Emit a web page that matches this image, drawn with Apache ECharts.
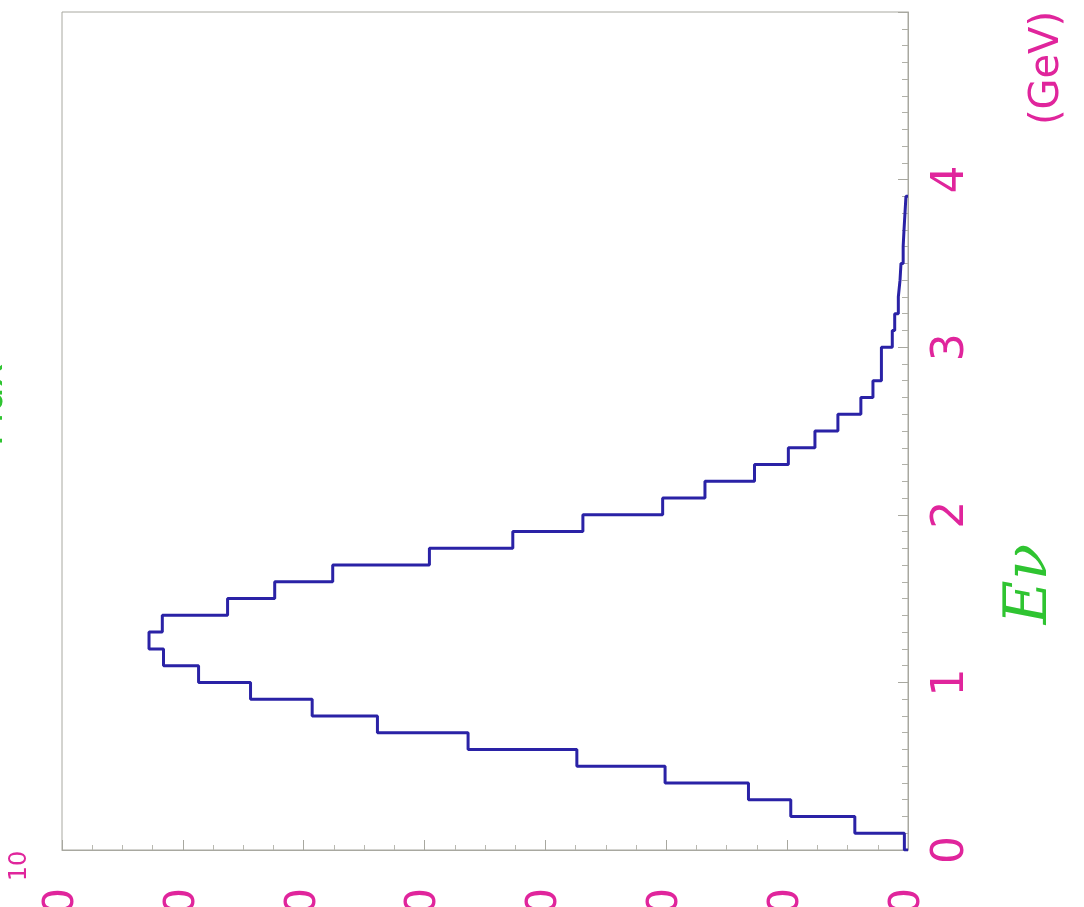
<!DOCTYPE html>
<html>
<head>
<meta charset="utf-8">
<script src="https://cdn.jsdelivr.net/npm/echarts@6/dist/echarts.min.js"></script>
<style>
  html, body {margin: 0; padding: 0; background: #fff;}
  #contain {width: 1084px; height: 907px;}
</style>
</head>
<body>
<div id="contain"></div>
<script>
// bin edges in GeV (0.1 GeV bins)
var binEdges = [0.0, 0.1, 0.2, 0.3, 0.4, 0.5, 0.6, 0.7, 0.8, 0.9,
    1.0, 1.1, 1.2, 1.3, 1.4, 1.5, 1.6, 1.7, 1.8, 1.9,
    2.0, 2.1, 2.2, 2.3, 2.4, 2.5, 2.6, 2.7, 2.8, 2.9,
    3.0, 3.1, 3.2, 3.3, 3.4, 3.5, 3.6, 3.7, 3.8, 3.9];
// content of each bin
var binCounts = [0.3, 4.4, 9.7, 13.2, 20.1, 27.4, 36.4, 43.9, 49.3, 54.4,
    58.7, 61.6, 62.8, 61.7, 56.3, 52.4, 47.6, 39.6, 32.7, 26.9,
    20.3, 16.8, 12.7, 9.9, 7.7, 5.8, 3.9, 2.9, 2.2, 2.2,
    1.3, 1.1, 0.8, 0.66, 0.58, 0.4, 0.33, 0.25, 0.17];
var countTicks = [0, 10, 20, 30, 40, 50, 60, 70];
var energyTicks = [0, 1, 2, 3, 4, 5];

var magenta = '#e0259c';
var green = '#2fc431';

function histPoints() {
    var pts = [[0, binEdges[0]]];
    for (var i = 0; i < binCounts.length; i++) {
        var hi = i + 1 < binEdges.length ? binEdges[i + 1] : binEdges[i] + 0.1;
        pts.push([binCounts[i], binEdges[i]]);
        pts.push([binCounts[i], hi]);
    }
    pts.push([0, pts[pts.length - 1][1]]);
    return pts;
}

var myChart = echarts.init(document.getElementById('contain'));
var option = {
    animation: false,
    backgroundColor: '#ffffff',
    grid: {
        left: 62, top: 12, width: 846, height: 838,
        outerBoundsMode: 'none',
        containLabel: false,
        show: true, borderColor: '#a8a8a0', borderWidth: 1
    },
    xAxis: {
        type: 'value',
        inverse: true,
        min: countTicks[0],
        max: countTicks[countTicks.length - 1],
        interval: 10,
        axisLine: {show: true, lineStyle: {color: '#a8a8a0'}},
        axisTick: {show: true, inside: true, length: 10, lineStyle: {color: '#a8a8a0'}},
        minorTick: {show: true, splitNumber: 4, length: 5, lineStyle: {color: '#b8b8b0'}},
        splitLine: {show: false},
        axisLabel: {
            show: true, rotate: 90, margin: 38,
            color: magenta, fontSize: 42, fontFamily: 'DejaVu Sans',
            showMinLabel: true, showMaxLabel: true
        }
    },
    yAxis: {
        type: 'value',
        position: 'right',
        min: energyTicks[0],
        max: energyTicks[energyTicks.length - 1],
        interval: 1,
        axisLine: {show: true, lineStyle: {color: '#a8a8a0'}},
        axisTick: {show: true, inside: true, length: 10, lineStyle: {color: '#a8a8a0'}},
        minorTick: {show: true, splitNumber: 10, length: 6, lineStyle: {color: '#b0b0a8'}},
        splitLine: {show: false},
        axisLabel: {
            show: true, rotate: 90, margin: 22,
            color: magenta, fontSize: 44, fontFamily: 'DejaVu Sans',
            formatter: function (v) { return v === 5 ? '' : String(v); }
        }
    },
    graphic: [
        {
            type: 'text', x: 1048, y: 68, rotation: Math.PI / 2,
            style: {text: '(GeV)', fill: magenta, font: '40px "DejaVu Sans"', align: 'center', verticalAlign: 'middle'}
        },
        {
            type: 'text', x: 1030, y: 584, rotation: Math.PI / 2,
            style: {text: 'Eν', fill: green, font: 'italic 60px "DejaVu Serif"', align: 'center', verticalAlign: 'middle'}
        },
        {
            type: 'text', x: 20, y: 866, rotation: Math.PI / 2,
            style: {text: '10', fill: magenta, font: '24px "DejaVu Sans"', align: 'center', verticalAlign: 'middle'}
        },
        {
            type: 'text', x: -8, y: 405, rotation: Math.PI / 2,
            style: {text: 'Flux', fill: green, font: '40px "DejaVu Sans"', align: 'center', verticalAlign: 'middle'}
        }
    ],
    series: [
        {
            name: 'Eν',
            type: 'line',
            data: histPoints(),
            symbol: 'none',
            showSymbol: false,
            lineStyle: {color: '#2a22a6', width: 3},
            z: 5
        }
    ]
};
myChart.setOption(option, true);
</script>
</body>
</html>
